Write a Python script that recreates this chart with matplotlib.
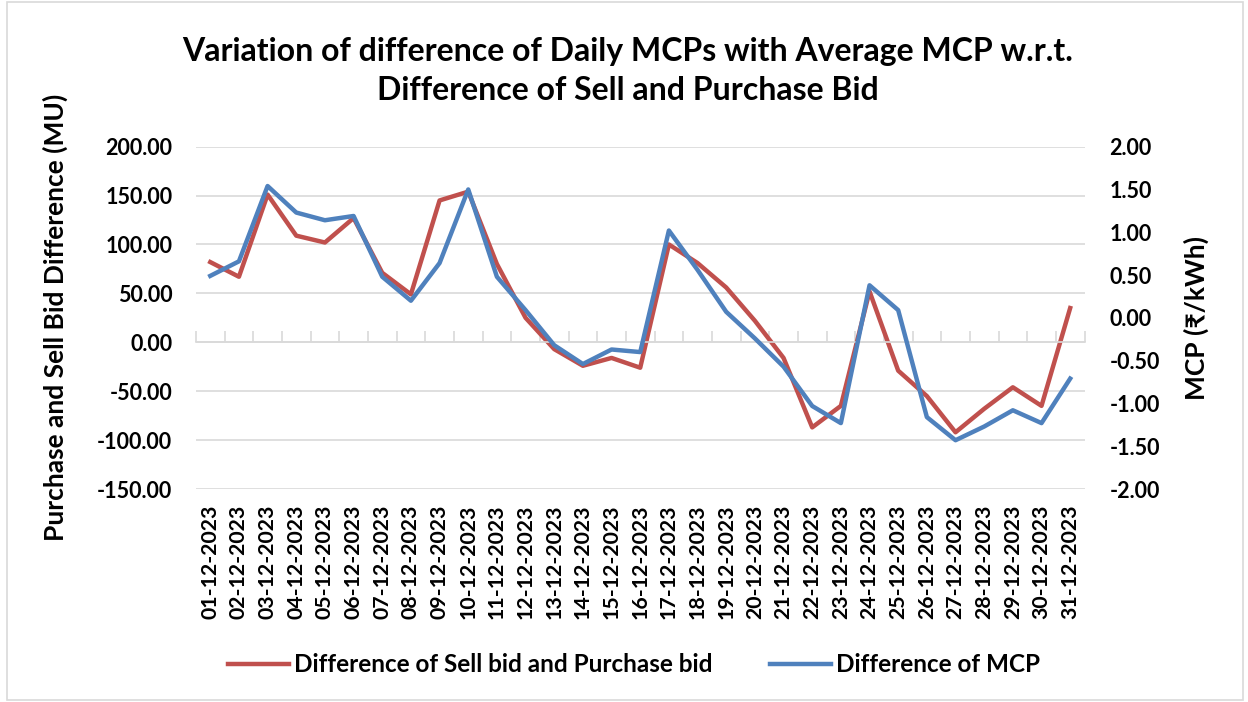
import matplotlib
matplotlib.use("Agg")
import matplotlib.pyplot as plt
from matplotlib.patches import Rectangle

plt.rcParams['font.family'] = ['Lato', 'Noto Sans', 'DejaVu Sans']
plt.rcParams['font.weight'] = 'bold'

dates = [f"{d:02d}-12-2023" for d in range(1, 32)]
bid_diff = [82, 67, 151, 109, 102, 127, 71, 49, 145, 154, 80, 25, -7, -24, -16,
            -26, 100, 81, 56, 22, -16, -87, -65, 52, -29, -55, -92, -68, -46, -65, 35]
mcp_diff = [0.49, 0.66, 1.54, 1.23, 1.14, 1.19, 0.48, 0.20, 0.64, 1.50, 0.48, 0.09,
            -0.32, -0.54, -0.37, -0.40, 1.02, 0.56, 0.07, -0.24, -0.57, -1.03, -1.23,
            0.38, 0.09, -1.16, -1.43, -1.27, -1.08, -1.23, -0.71]
left_ticks = [200, 150, 100, 50, 0, -50, -100, -150]
right_ticks = [2.0, 1.5, 1.0, 0.5, 0.0, -0.5, -1.0, -1.5, -2.0]

RED = '#C0504D'
BLUE = '#4F81BD'

fig = plt.figure(figsize=(12.48, 7.02), dpi=100)
fig.patches.append(Rectangle((0.006, 0.003), 0.990, 0.994, transform=fig.transFigure,
                             fill=False, edgecolor='#D9D9D9', lw=1.2))
ax = fig.add_axes([0.157, 0.3034, 0.712, 0.4877])
ax2 = ax.twinx()

x = list(range(len(dates)))
l1, = ax.plot(x, bid_diff, color=RED, lw=3.2, solid_joinstyle='round', label='Difference of Sell bid and Purchase bid')
l2, = ax2.plot(x, mcp_diff, color=BLUE, lw=3.2, solid_joinstyle='round', label='Difference of MCP')
ax2.set_zorder(ax.get_zorder() + 1)
ax2.patch.set_visible(False)

ax.set_ylim(-150, 200)
ax.set_yticks(left_ticks)
ax.set_yticklabels([f"{v:.2f}" for v in left_ticks], fontsize=15.5, fontweight='bold')
ax2.set_ylim(-2, 2)
ax2.set_yticks(right_ticks)
ax2.set_yticklabels([f"{v:.2f}" for v in right_ticks], fontsize=15.5, fontweight='bold')
ax.set_xlim(-0.5, len(dates) - 0.5)
ax.grid(axis='y', color='#D9D9D9', lw=1.2)
ax.set_axisbelow(True)

for a in (ax, ax2):
    for s in a.spines.values():
        s.set_visible(False)
ax.tick_params(axis='y', length=0, pad=17)
ax2.tick_params(axis='y', length=0, pad=18)

# category axis at y=0 with boundary ticks
ax.spines['bottom'].set_visible(True)
ax.spines['bottom'].set_position(('data', 0))
ax.spines['bottom'].set_color('#D9D9D9')
ax.spines['bottom'].set_linewidth(1.2)
ax.set_xticks([i - 0.5 for i in range(len(dates) + 1)], minor=True)
ax.set_xticks(x)
ax.set_xticklabels([])
ax.tick_params(axis='x', which='major', length=0)
ax.tick_params(axis='x', which='minor', direction='in', length=8, color='#D9D9D9', width=1.2)

sec = ax.secondary_xaxis(0.0)
sec.set_xticks(x)
sec.set_xticklabels(dates, rotation=90, fontsize=15.3, fontweight='bold')
sec.tick_params(length=0, pad=11)
sec.spines['bottom'].set_visible(False)

ax.set_ylabel('Purchase and Sell Bid Difference (MU)', fontsize=19, fontweight='bold', labelpad=21)
ax2.set_ylabel('MCP (₹/kWh)', fontsize=19, fontweight='bold', labelpad=17)

fig.text(0.503, 0.899, 'Variation of difference of Daily MCPs with Average MCP w.r.t.\nDifference of Sell and Purchase Bid',
         ha='center', va='center', fontsize=23, fontweight='bold', linespacing=1.42)

fig.legend(handles=[l1, l2], loc='center', bbox_to_anchor=(0.508, 0.053), ncol=2,
           frameon=False, handlelength=2.5, handletextpad=0.2, columnspacing=2.4,
           prop={'weight': 'bold', 'size': 17.5})

fig.savefig('out.png', dpi=100)
